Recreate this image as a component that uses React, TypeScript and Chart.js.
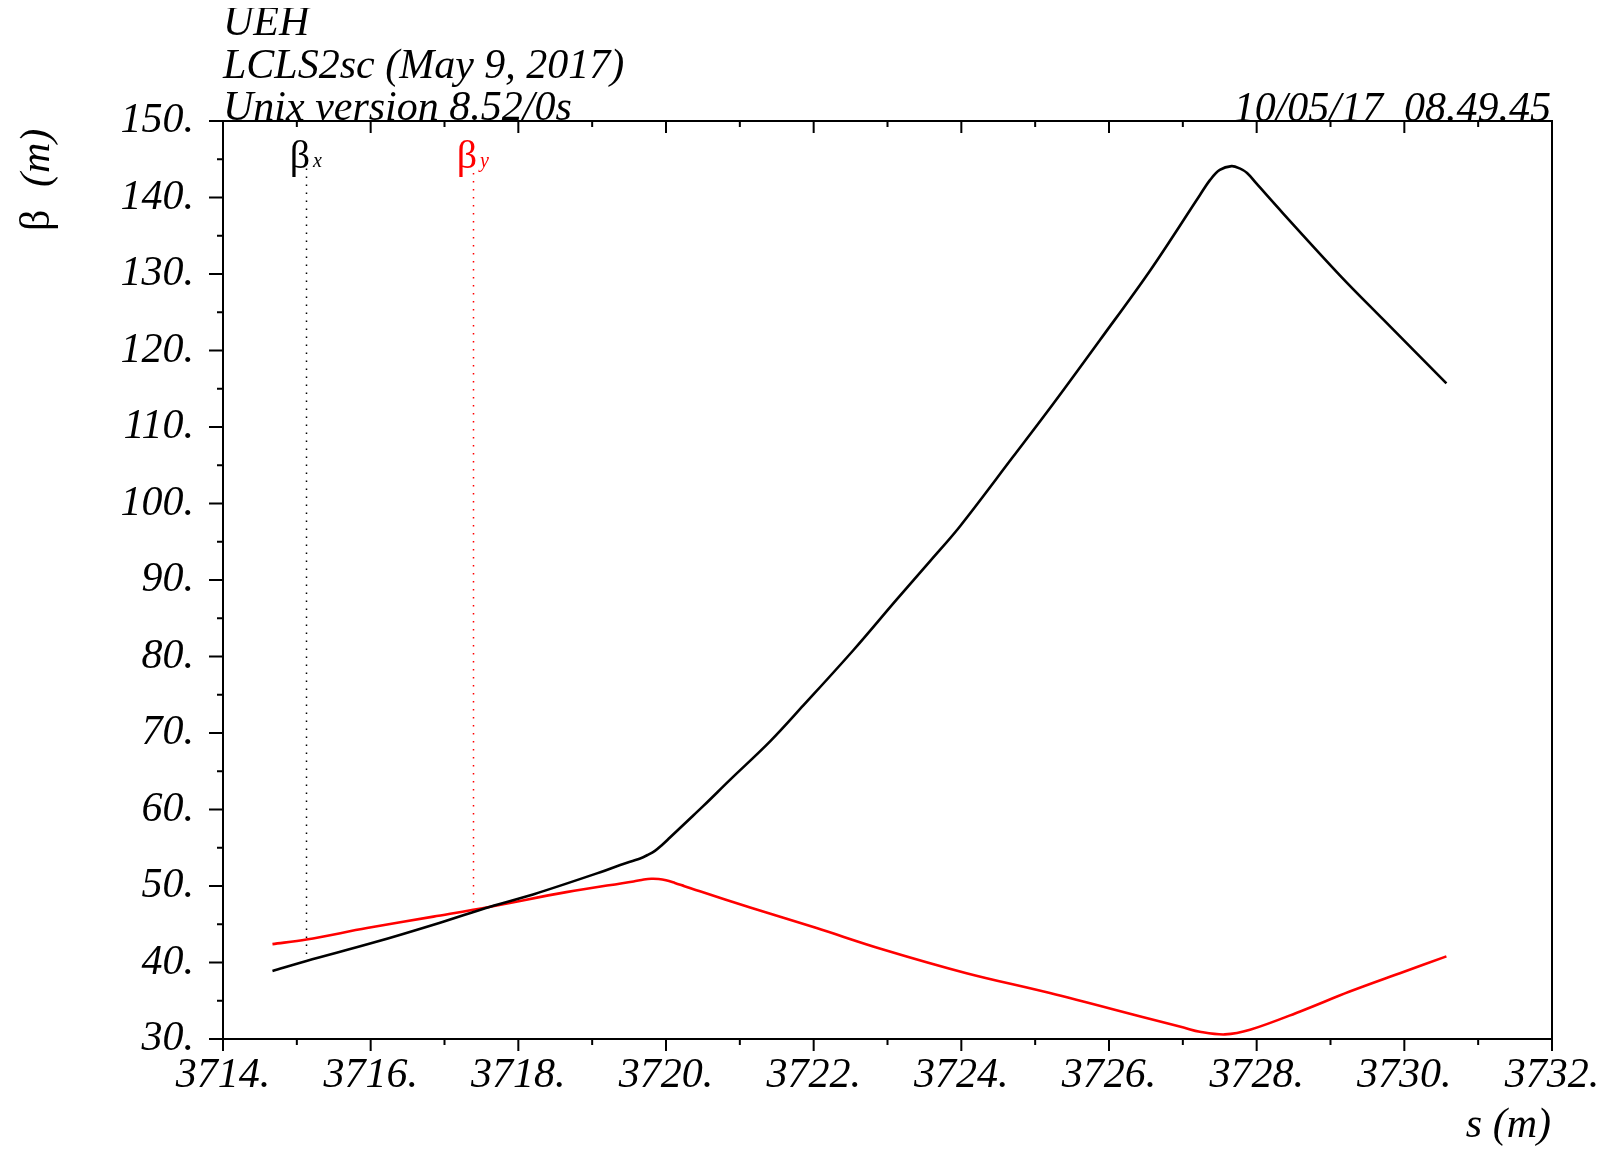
import React, { useEffect, useRef } from "react";
import { Chart, registerables } from "chart.js";

Chart.register(...registerables);

// ---- data ----
const bxS = [3714.67, 3715.13, 3716.04, 3716.94, 3717.62, 3718.2, 3719.11, 3719.38, 3719.65, 3719.75, 3719.85, 3719.95, 3720.05, 3720.28, 3720.51, 3720.87, 3721.41, 3721.86, 3722.54, 3723.12, 3723.58, 3723.98, 3724.7, 3725.25, 3725.88, 3726.56, 3727.23, 3727.37, 3727.5, 3727.66, 3727.77, 3727.87, 3727.99, 3728.36, 3729.13, 3729.72, 3730.57];
const bxV = [38.9, 40.2, 42.6, 45.2, 47.3, 48.9, 51.8, 52.75, 53.6, 54.05, 54.6, 55.4, 56.3, 58.4, 60.5, 63.9, 68.9, 73.6, 80.85, 87.4, 92.5, 97.0, 106.1, 113.1, 121.4, 130.5, 140.3, 142.3, 143.6, 144.1, 143.8, 143.2, 141.9, 137.9, 129.8, 124.0, 115.7];
const byS = [3714.67, 3715.13, 3715.95, 3716.85, 3717.62, 3718.65, 3719.56, 3719.7, 3719.8, 3719.9, 3720.0, 3720.12, 3720.25, 3720.46, 3721.14, 3722.04, 3722.94, 3724.07, 3725.2, 3726.56, 3727.01, 3727.23, 3727.57, 3727.91, 3728.59, 3729.26, 3729.94, 3730.57];
const byV = [42.4, 43.0, 44.5, 46.0, 47.3, 49.2, 50.6, 50.85, 50.95, 50.92, 50.75, 50.4, 49.98, 49.3, 47.2, 44.5, 41.7, 38.6, 36.0, 32.6, 31.5, 30.95, 30.6, 31.2, 33.6, 36.2, 38.6, 40.8];

const markerS = [3715.13, 3717.38];
const markerTop = [143.8, 143.2];
const markerBottom = [40.3, 47.5];
const markerSub = ["x", "y"];

const titleLines = ["UEH", "LCLS2sc (May 9, 2017)", "Unix version 8.52/0s"];
const dateText = "10/05/17  08.49.45";
const xTitle = "s (m)";
const yTitleUnit = "(m)";

const X_MIN = 3714, X_MAX = 3732, X_STEP = 2;
const Y_MIN = 30, Y_MAX = 150, Y_STEP = 10;

const SERIF = '"Liberation Serif", "Times New Roman", serif';
const FS = 42;

const decorPlugin = {
  id: "decor",
  afterDatasetsDraw(chart: any) {
    const { ctx, chartArea: a, scales } = chart;
    const xs = scales.x, ys = scales.y;
    ctx.save();
    // markers
    const mColors = ["#000000", "#ff0000"];
    markerS.forEach((s, i) => {
      const px = Math.round(xs.getPixelForValue(s)) + 0.5;
      ctx.strokeStyle = mColors[i];
      ctx.lineWidth = 1.5;
      ctx.setLineDash([1.5, 6.5]);
      ctx.beginPath();
      ctx.moveTo(px, ys.getPixelForValue(markerTop[i]));
      ctx.lineTo(px, ys.getPixelForValue(markerBottom[i]));
      ctx.stroke();
      ctx.setLineDash([]);
      ctx.fillStyle = mColors[i];
      ctx.textBaseline = "alphabetic";
      ctx.font = `40px ${SERIF}`;
      ctx.textAlign = "right";
      ctx.fillText("β", px + 3.5, 160);
      ctx.textAlign = "left";
      ctx.font = `italic 20px ${SERIF}`;
      ctx.fillText(markerSub[i], px + 6.5, 159);
    });
    // frame
    ctx.strokeStyle = "#000";
    ctx.lineWidth = 2;
    ctx.strokeRect(a.left, a.top, a.right - a.left, a.bottom - a.top);
    // x ticks (bottom outward, top inward)
    ctx.beginPath();
    for (let v = X_MIN; v <= X_MAX + 1e-9; v += X_STEP / 2) {
      const major = Math.abs(((v - X_MIN) / X_STEP) - Math.round((v - X_MIN) / X_STEP)) < 1e-6;
      const len = major ? 12 : 6;
      const px = xs.getPixelForValue(v);
      ctx.moveTo(px, a.bottom);
      ctx.lineTo(px, a.bottom + len);
      ctx.moveTo(px, a.top);
      ctx.lineTo(px, a.top + len);
    }
    // y ticks (left outward)
    for (let v = Y_MIN; v <= Y_MAX + 1e-9; v += Y_STEP / 2) {
      const major = Math.abs(((v - Y_MIN) / Y_STEP) - Math.round((v - Y_MIN) / Y_STEP)) < 1e-6;
      const len = major ? 14 : 6;
      const py = ys.getPixelForValue(v);
      ctx.moveTo(a.left, py);
      ctx.lineTo(a.left - len, py);
    }
    ctx.stroke();
    ctx.restore();
  },
  afterDraw(chart: any) {
    const { ctx } = chart;
    ctx.save();
    ctx.fillStyle = "#000";
    ctx.textBaseline = "alphabetic";
    ctx.font = `italic ${FS}px ${SERIF}`;
    ctx.textAlign = "left";
    const bases = [27, 70, 112];
    titleLines.forEach((t, i) => ctx.fillText(t, 215, bases[i]));
    ctx.textAlign = "right";
    ctx.fillText(dateText, 1543, 113);
    ctx.fillText(xTitle, 1543, 1129);
    // y title rotated
    ctx.translate(41, 223);
    ctx.rotate(-Math.PI / 2);
    ctx.textAlign = "left";
    ctx.font = `${FS}px ${SERIF}`;
    ctx.fillText("β", 0, 0);
    ctx.font = `italic ${FS}px ${SERIF}`;
    ctx.fillText(yTitleUnit, 44, 0);
    ctx.restore();
  },
};

export default function App() {
  const ref = useRef<HTMLCanvasElement | null>(null);
  useEffect(() => {
    if (!ref.current) return;
    const tickFont = { family: SERIF, size: FS, style: "italic" as const };
    const chart = new Chart(ref.current, {
      type: "line",
      data: {
        datasets: [
          {
            label: "βx",
            data: bxS.map((s, i) => ({ x: s, y: bxV[i] })),
            borderColor: "#000000",
            borderWidth: 2.6,
            pointRadius: 0,
            fill: false,
            tension: 0.35,
          },
          {
            label: "βy",
            data: byS.map((s, i) => ({ x: s, y: byV[i] })),
            borderColor: "#ff0000",
            borderWidth: 2.6,
            pointRadius: 0,
            fill: false,
            tension: 0.35,
          },
        ],
      },
      options: {
        animation: false,
        responsive: false,
        layout: { padding: { left: 0, top: 113, right: 46, bottom: 0 } },
        plugins: { legend: { display: false }, tooltip: { enabled: false } },
        scales: {
          x: {
            type: "linear",
            position: "bottom",
            min: X_MIN,
            max: X_MAX,
            ticks: {
              stepSize: X_STEP,
              callback: (v: any) => `${Math.round(v)}.`,
              font: tickFont,
              color: "#000",
              padding: 12,
              maxRotation: 0,
              autoSkip: false,
            },
            grid: { display: false, drawTicks: false },
            border: { display: false },
            afterFit: (s: any) => {
              s.height = 108;
              s.paddingLeft = 0;
              s.paddingRight = 0;
            },
          },
          y: {
            type: "linear",
            min: Y_MIN,
            max: Y_MAX,
            ticks: {
              stepSize: Y_STEP,
              callback: (v: any) => `${Math.round(v)}.`,
              font: tickFont,
              color: "#000",
              padding: 29,
              autoSkip: false,
            },
            grid: { display: false, drawTicks: false },
            border: { display: false },
            afterFit: (s: any) => {
              s.width = 215;
              s.paddingTop = 0;
              s.paddingBottom = 0;
            },
          },
        },
      },
      plugins: [decorPlugin],
    });
    return () => chart.destroy();
  }, []);
  return (
    <div style={{ width: 1590, height: 1139 }}>
      <canvas ref={ref} width={1590} height={1139} style={{ display: "block" }} />
    </div>
  );
}
